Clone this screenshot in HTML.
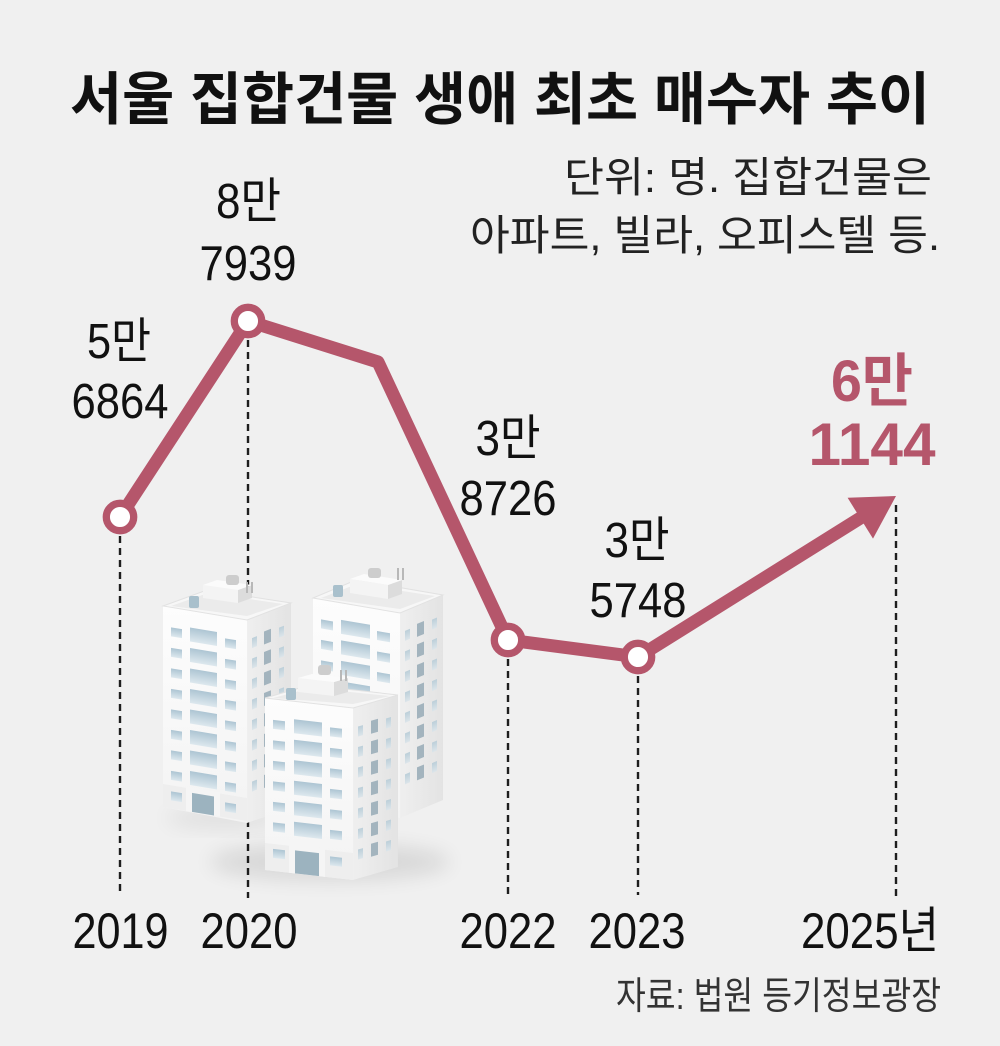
<!DOCTYPE html>
<html lang="ko">
<head>
<meta charset="utf-8">
<style>
  html,body{margin:0;padding:0;background:#f0f0f0;}
  svg{display:block;}
  text{font-family:"Liberation Sans","Noto Sans CJK KR",sans-serif;}
</style>
</head>
<body>
<svg width="1000" height="1046" viewBox="0 0 1000 1046" xmlns="http://www.w3.org/2000/svg">
  <defs>
    <linearGradient id="gFront" x1="0" y1="0" x2="0" y2="1">
      <stop offset="0" stop-color="#fdfdfd"/>
      <stop offset="1" stop-color="#f3f3f3"/>
    </linearGradient>
    <linearGradient id="gSide" x1="0" y1="0" x2="1" y2="0">
      <stop offset="0" stop-color="#efefef"/>
      <stop offset="1" stop-color="#e3e3e3"/>
    </linearGradient>
    <linearGradient id="gWin" x1="0" y1="0" x2="0" y2="1">
      <stop offset="0" stop-color="#adc5d3"/>
      <stop offset="1" stop-color="#dde8ee"/>
    </linearGradient>
    <linearGradient id="gWinS" x1="0" y1="0" x2="0" y2="1">
      <stop offset="0" stop-color="#bccfd9"/>
      <stop offset="1" stop-color="#dce5ea"/>
    </linearGradient>
    <filter id="blur" x="-50%" y="-50%" width="200%" height="200%">
      <feGaussianBlur stdDeviation="10"/>
    </filter>
  </defs>

  <rect width="1000" height="1046" fill="#f0f0f0"/>

  <!-- Title -->
  <text x="70" y="119" font-size="57" font-weight="700" fill="#111" textLength="860" lengthAdjust="spacingAndGlyphs">서울 집합건물 생애 최초 매수자 추이</text>

  <!-- Subtitle -->
  <text x="932" y="192" font-size="42" fill="#222" text-anchor="end" textLength="368" lengthAdjust="spacingAndGlyphs">단위: 명. 집합건물은</text>
  <text x="940" y="250" font-size="42" fill="#222" text-anchor="end" textLength="470" lengthAdjust="spacingAndGlyphs">아파트, 빌라, 오피스텔 등.</text>

  <!-- Dashed guide lines -->
  <g stroke="#1e1e1e" stroke-width="2.4" stroke-dasharray="7 5" fill="none">
    <line x1="120" y1="536" x2="120" y2="895"/>
    <line x1="248" y1="340" x2="248" y2="898"/>
    <line x1="508" y1="659" x2="508" y2="895"/>
    <line x1="638" y1="676" x2="638" y2="895"/>
    <line x1="896" y1="505" x2="896" y2="897"/>
  </g>

  <!-- Shadow under buildings -->
  <ellipse cx="330" cy="862" rx="120" ry="18" fill="#000" opacity="0.10" filter="url(#blur)"/>
  <ellipse cx="225" cy="818" rx="60" ry="10" fill="#000" opacity="0.07" filter="url(#blur)"/>

  <!-- Building B2 (back right) -->
  <g>
    <polygon points="313,598 400,613 400,818 313,803" fill="url(#gFront)"/>
    <polygon points="400,613 443,595 443,800 400,818" fill="url(#gSide)"/>
    <polygon points="313,598 356,580 443,595 400,613" fill="#f7f7f7" stroke="#e2e2e2" stroke-width="1"/>
    <polygon points="321,598 357,584 435,596 400,609" fill="#ebebeb"/>
    <polygon points="350,593 388,599 388,585 350,579" fill="#f4f4f4"/>
    <polygon points="388,599 402,594 402,580 388,585" fill="#dcdcdc"/>
    <polygon points="350,579 364,574 402,580 388,585" fill="#fbfbfb"/>
    <rect x="333" y="585" width="10" height="12" rx="2" fill="#a9c0cc"/>
    <rect x="368" y="568" width="13" height="10" rx="3" fill="#cdcdcd"/>
    <rect x="397" y="568" width="2" height="12" fill="#b8b8b8"/>
    <rect x="402" y="568" width="2" height="12" fill="#b8b8b8"/>
    <g transform="matrix(1,0.172,0,1,313,598)">
      <g fill="url(#gWin)">
        <rect x="8" y="20" width="12" height="9"/><rect x="64" y="22" width="13" height="9"/>
        <rect x="8" y="40.5" width="12" height="9"/><rect x="64" y="42.5" width="13" height="9"/>
        <rect x="8" y="61" width="12" height="9"/><rect x="64" y="63" width="13" height="9"/>
        <rect x="8" y="81.5" width="12" height="9"/><rect x="64" y="83.5" width="13" height="9"/>
        <rect x="8" y="102" width="12" height="9"/><rect x="64" y="104" width="13" height="9"/>
        <rect x="8" y="122.5" width="12" height="9"/><rect x="64" y="124.5" width="13" height="9"/>
        <rect x="8" y="143" width="12" height="9"/><rect x="64" y="145" width="13" height="9"/>
        <rect x="8" y="163.5" width="12" height="9"/><rect x="64" y="165.5" width="13" height="9"/>
        <rect x="8" y="184" width="12" height="9"/><rect x="64" y="186" width="13" height="9"/>
        <rect x="28" y="17" width="29" height="14"/>
        <rect x="28" y="37.5" width="29" height="14"/>
        <rect x="28" y="58" width="29" height="14"/>
        <rect x="28" y="78.5" width="29" height="14"/>
        <rect x="28" y="99" width="29" height="14"/>
      </g>
    </g>
    <g transform="matrix(1,-0.419,0,1,400,613)">
      <g fill="url(#gWinS)">
        <rect x="5" y="20" width="5" height="10"/><rect x="32" y="20" width="5" height="10"/>
        <rect x="5" y="40.5" width="5" height="10"/><rect x="32" y="40.5" width="5" height="10"/>
        <rect x="5" y="61" width="5" height="10"/><rect x="32" y="61" width="5" height="10"/>
        <rect x="5" y="81.5" width="5" height="10"/><rect x="32" y="81.5" width="5" height="10"/>
        <rect x="5" y="102" width="5" height="10"/><rect x="32" y="102" width="5" height="10"/>
        <rect x="5" y="122.5" width="5" height="10"/><rect x="32" y="122.5" width="5" height="10"/>
        <rect x="5" y="143" width="5" height="10"/><rect x="32" y="143" width="5" height="10"/>
        <rect x="5" y="163.5" width="5" height="10"/><rect x="32" y="163.5" width="5" height="10"/>
      </g>
      <g fill="#a3b4be">
        <rect x="17" y="18" width="7" height="13"/><rect x="17" y="38.5" width="7" height="13"/>
        <rect x="17" y="59" width="7" height="13"/><rect x="17" y="79.5" width="7" height="13"/>
        <rect x="17" y="100" width="7" height="13"/><rect x="17" y="120.5" width="7" height="13"/>
        <rect x="17" y="141" width="7" height="13"/><rect x="17" y="161.5" width="7" height="13"/>
      </g>
    </g>
  </g>

  <!-- Building B1 (left) -->
  <g>
    <polygon points="163,606 247,620 247,823 163,807" fill="url(#gFront)"/>
    <polygon points="247,620 291,603 291,808 247,823" fill="url(#gSide)"/>
    <polygon points="163,606 207,590 291,603 247,620" fill="#f7f7f7" stroke="#e2e2e2" stroke-width="1"/>
    <polygon points="171,606 208,593 283,604 247,616" fill="#ebebeb"/>
    <polygon points="203,598 238,603 238,590 203,585" fill="#f4f4f4"/>
    <polygon points="238,603 252,598 252,585 238,590" fill="#dcdcdc"/>
    <polygon points="203,585 217,580 252,585 238,590" fill="#fbfbfb"/>
    <rect x="189" y="596" width="10" height="12" rx="2" fill="#a9c0cc"/>
    <rect x="226" y="575" width="13" height="10" rx="3" fill="#cdcdcd"/>
    <rect x="246" y="582" width="2" height="11" fill="#b8b8b8"/>
    <rect x="251" y="582" width="2" height="11" fill="#b8b8b8"/>
    <g transform="matrix(1,0.1667,0,1,163,606)">
      <g fill="url(#gWin)">
        <rect x="8" y="20" width="11" height="9"/><rect x="62" y="22" width="11" height="9"/>
        <rect x="8" y="40.5" width="11" height="9"/><rect x="62" y="42.5" width="11" height="9"/>
        <rect x="8" y="61" width="11" height="9"/><rect x="62" y="63" width="11" height="9"/>
        <rect x="8" y="81.5" width="11" height="9"/><rect x="62" y="83.5" width="11" height="9"/>
        <rect x="8" y="102" width="11" height="9"/><rect x="62" y="104" width="11" height="9"/>
        <rect x="8" y="122.5" width="11" height="9"/><rect x="62" y="124.5" width="11" height="9"/>
        <rect x="8" y="143" width="11" height="9"/><rect x="62" y="145" width="11" height="9"/>
        <rect x="8" y="163.5" width="11" height="9"/><rect x="62" y="165.5" width="11" height="9"/>
        <rect x="27" y="17" width="27" height="14"/>
        <rect x="27" y="37.5" width="27" height="14"/>
        <rect x="27" y="58" width="27" height="14"/>
        <rect x="27" y="78.5" width="27" height="14"/>
        <rect x="27" y="99" width="27" height="14"/>
        <rect x="27" y="119.5" width="27" height="14"/>
        <rect x="27" y="140" width="27" height="14"/>
        <rect x="27" y="160.5" width="27" height="14"/>
      </g>
      <rect x="0" y="178" width="84" height="23" fill="#eeeeee"/>
      <rect x="23" y="177" width="34" height="24" fill="#f5f5f5"/>
      <rect x="29" y="182" width="22" height="19" fill="#9cb3bf"/>
      <rect x="8" y="184" width="11" height="9" fill="url(#gWin)"/>
      <rect x="62" y="186" width="11" height="9" fill="url(#gWin)"/>
    </g>
    <g transform="matrix(1,-0.386,0,1,247,620)">
      <g fill="url(#gWinS)">
        <rect x="5" y="20" width="5" height="10"/><rect x="32" y="20" width="5" height="10"/>
        <rect x="5" y="40.5" width="5" height="10"/><rect x="32" y="40.5" width="5" height="10"/>
        <rect x="5" y="61" width="5" height="10"/><rect x="32" y="61" width="5" height="10"/>
        <rect x="5" y="81.5" width="5" height="10"/><rect x="32" y="81.5" width="5" height="10"/>
        <rect x="5" y="102" width="5" height="10"/><rect x="32" y="102" width="5" height="10"/>
        <rect x="5" y="122.5" width="5" height="10"/><rect x="32" y="122.5" width="5" height="10"/>
        <rect x="5" y="143" width="5" height="10"/><rect x="32" y="143" width="5" height="10"/>
        <rect x="5" y="163.5" width="5" height="10"/><rect x="32" y="163.5" width="5" height="10"/>
      </g>
      <g fill="#a3b4be">
        <rect x="17" y="18" width="7" height="13"/><rect x="17" y="38.5" width="7" height="13"/>
        <rect x="17" y="59" width="7" height="13"/><rect x="17" y="79.5" width="7" height="13"/>
        <rect x="17" y="100" width="7" height="13"/><rect x="17" y="120.5" width="7" height="13"/>
        <rect x="17" y="141" width="7" height="13"/><rect x="17" y="161.5" width="7" height="13"/>
      </g>
    </g>
  </g>

  <!-- Building B3 (front) -->
  <g>
    <polygon points="265,698 353,708 353,880 265,870" fill="url(#gFront)"/>
    <polygon points="353,708 398,695 398,867 353,880" fill="url(#gSide)"/>
    <polygon points="265,698 310,685 398,695 353,708" fill="#f7f7f7" stroke="#e2e2e2" stroke-width="1"/>
    <polygon points="273,698 311,688 390,696 353,704" fill="#ebebeb"/>
    <polygon points="298,692 334,696 334,682 298,678" fill="#f4f4f4"/>
    <polygon points="334,696 348,692 348,678 334,682" fill="#dcdcdc"/>
    <polygon points="298,678 312,674 348,678 334,682" fill="#fbfbfb"/>
    <rect x="286" y="688" width="10" height="12" rx="2" fill="#a9c0cc"/>
    <rect x="318" y="665" width="13" height="10" rx="3" fill="#cdcdcd"/>
    <rect x="340" y="670" width="2" height="11" fill="#b8b8b8"/>
    <rect x="345" y="670" width="2" height="11" fill="#b8b8b8"/>
    <g transform="matrix(1,0.114,0,1,265,698)">
      <g fill="url(#gWin)">
        <rect x="8" y="21" width="12" height="9"/><rect x="65" y="22" width="12" height="9"/>
        <rect x="8" y="41.5" width="12" height="9"/><rect x="65" y="42.5" width="12" height="9"/>
        <rect x="8" y="62" width="12" height="9"/><rect x="65" y="63" width="12" height="9"/>
        <rect x="8" y="82.5" width="12" height="9"/><rect x="65" y="83.5" width="12" height="9"/>
        <rect x="8" y="103" width="12" height="9"/><rect x="65" y="104" width="12" height="9"/>
        <rect x="8" y="123.5" width="12" height="9"/><rect x="65" y="124.5" width="12" height="9"/>
        <rect x="29" y="18" width="28" height="14"/>
        <rect x="29" y="38.5" width="28" height="14"/>
        <rect x="29" y="59" width="28" height="14"/>
        <rect x="29" y="79.5" width="28" height="14"/>
        <rect x="29" y="100" width="28" height="14"/>
        <rect x="29" y="120.5" width="28" height="14"/>
      </g>
      <rect x="0" y="145" width="88" height="27" fill="#eeeeee"/>
      <rect x="24" y="143" width="36" height="29" fill="#f5f5f5"/>
      <rect x="30" y="149" width="24" height="23" fill="#9cb3bf"/>
      <rect x="8" y="150" width="12" height="9" fill="url(#gWin)"/>
      <rect x="65" y="151" width="12" height="9" fill="url(#gWin)"/>
    </g>
    <g transform="matrix(1,-0.289,0,1,353,708)">
      <g fill="url(#gWinS)">
        <rect x="5" y="20" width="5" height="10"/><rect x="33" y="20" width="5" height="10"/>
        <rect x="5" y="40.5" width="5" height="10"/><rect x="33" y="40.5" width="5" height="10"/>
        <rect x="5" y="61" width="5" height="10"/><rect x="33" y="61" width="5" height="10"/>
        <rect x="5" y="81.5" width="5" height="10"/><rect x="33" y="81.5" width="5" height="10"/>
        <rect x="5" y="102" width="5" height="10"/><rect x="33" y="102" width="5" height="10"/>
        <rect x="5" y="122.5" width="5" height="10"/><rect x="33" y="122.5" width="5" height="10"/>
        <rect x="5" y="143" width="5" height="10"/><rect x="33" y="143" width="5" height="10"/>
      </g>
      <g fill="#a3b4be">
        <rect x="18" y="18" width="7" height="13"/><rect x="18" y="38.5" width="7" height="13"/>
        <rect x="18" y="59" width="7" height="13"/><rect x="18" y="79.5" width="7" height="13"/>
        <rect x="18" y="100" width="7" height="13"/><rect x="18" y="120.5" width="7" height="13"/>
        <rect x="18" y="141" width="7" height="13"/>
      </g>
    </g>
  </g>

  <!-- Main line -->
  <polyline points="120,517 248,321 378,362 508,640 638,657 862,517" fill="none" stroke="#b5566b" stroke-width="13" stroke-linejoin="round"/>
  <polygon points="896,496 847.6,497.8 873,538.6" fill="#b5566b"/>

  <!-- Markers -->
  <g fill="#ffffff" stroke="#b5566b" stroke-width="7.3">
    <circle cx="120" cy="517" r="13.7"/>
    <circle cx="248" cy="321" r="13.7"/>
    <circle cx="508" cy="640" r="13.7"/>
    <circle cx="638" cy="657" r="13.7"/>
  </g>

  <!-- Data labels -->
  <g fill="#111" font-size="49" text-anchor="middle">
    <text x="119" y="358" textLength="64" lengthAdjust="spacingAndGlyphs">5만</text>
    <text x="120" y="418" textLength="97" lengthAdjust="spacingAndGlyphs">6864</text>
    <text x="248.5" y="218" textLength="65" lengthAdjust="spacingAndGlyphs">8만</text>
    <text x="248" y="280" textLength="97" lengthAdjust="spacingAndGlyphs">7939</text>
    <text x="508" y="455" textLength="65" lengthAdjust="spacingAndGlyphs">3만</text>
    <text x="508" y="515" textLength="97" lengthAdjust="spacingAndGlyphs">8726</text>
    <text x="637" y="557" textLength="65" lengthAdjust="spacingAndGlyphs">3만</text>
    <text x="638" y="617" textLength="97" lengthAdjust="spacingAndGlyphs">5748</text>
  </g>
  <g fill="#b5566b" font-weight="700" text-anchor="middle">
    <text x="872" y="401" font-size="58" textLength="82" lengthAdjust="spacingAndGlyphs">6만</text>
    <text x="872" y="465" font-size="60" textLength="127" lengthAdjust="spacingAndGlyphs">1144</text>
  </g>

  <!-- Year labels -->
  <g fill="#111" font-size="50">
    <text x="120.5" y="948" text-anchor="middle" textLength="96" lengthAdjust="spacingAndGlyphs">2019</text>
    <text x="249" y="948" text-anchor="middle" textLength="97" lengthAdjust="spacingAndGlyphs">2020</text>
    <text x="508" y="948" text-anchor="middle" textLength="97" lengthAdjust="spacingAndGlyphs">2022</text>
    <text x="637" y="948" text-anchor="middle" textLength="97" lengthAdjust="spacingAndGlyphs">2023</text>
    <text x="801" y="948" textLength="138" lengthAdjust="spacingAndGlyphs">2025년</text>
  </g>

  <!-- Source -->
  <text x="941" y="1009" font-size="38" fill="#333" text-anchor="end" textLength="325" lengthAdjust="spacingAndGlyphs">자료: 법원 등기정보광장</text>
</svg>
</body>
</html>
